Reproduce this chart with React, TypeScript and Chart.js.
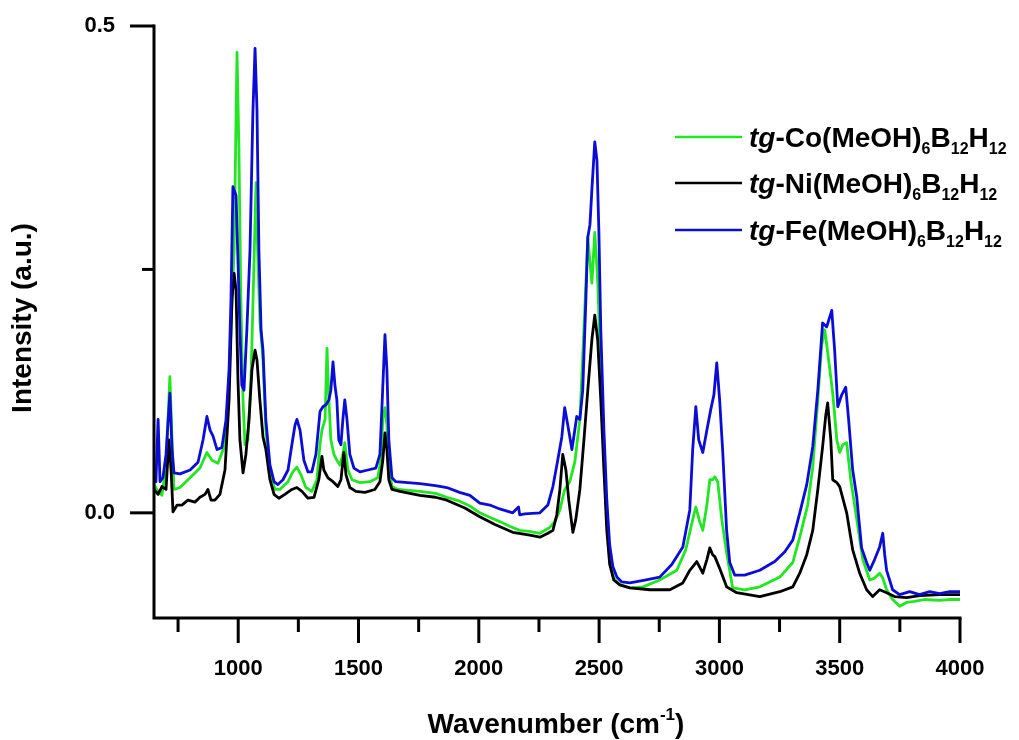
import React, { useEffect, useRef } from "react";
import { Chart, registerables } from "chart.js";

Chart.register(...registerables);

// Raman spectra: [wavenumber (cm^-1), intensity (a.u.)]
const coSpectrum: [number, number][] = [
  [650, 0.029], [667, 0.022], [683, 0.018], [700, 0.049], [716, 0.14], [725, 0.075], [733, 0.024],
  [758, 0.026], [800, 0.036], [841, 0.046], [870, 0.062], [891, 0.054], [916, 0.051], [945, 0.07],
  [958, 0.116], [970, 0.188], [983, 0.27], [995, 0.473], [1003, 0.373], [1011, 0.219], [1020, 0.116],
  [1028, 0.07], [1040, 0.075], [1053, 0.137], [1066, 0.26], [1074, 0.339], [1082, 0.26], [1090, 0.198],
  [1103, 0.157], [1115, 0.085], [1132, 0.039], [1153, 0.024], [1173, 0.024], [1207, 0.032], [1227, 0.042],
  [1244, 0.047], [1261, 0.039], [1281, 0.026], [1306, 0.022], [1327, 0.034], [1340, 0.07], [1348, 0.085],
  [1361, 0.096], [1369, 0.169], [1377, 0.116], [1385, 0.075], [1398, 0.06], [1410, 0.054], [1423, 0.049],
  [1435, 0.06], [1443, 0.072], [1456, 0.044], [1473, 0.034], [1506, 0.031], [1547, 0.032], [1580, 0.036],
  [1593, 0.054], [1601, 0.096], [1610, 0.108], [1618, 0.09], [1626, 0.049], [1639, 0.027], [1664, 0.024],
  [1755, 0.022], [1820, 0.02], [1867, 0.016], [1920, 0.012], [1963, 0.007], [2004, 0.0], [2050, -0.005],
  [2087, -0.009], [2130, -0.014], [2170, -0.018], [2210, -0.019], [2254, -0.021], [2295, -0.015],
  [2316, -0.009], [2337, 0.003], [2357, 0.024], [2378, 0.032], [2399, 0.052], [2420, 0.096], [2437, 0.188],
  [2453, 0.283], [2470, 0.236], [2482, 0.288], [2494, 0.239], [2507, 0.147], [2520, 0.054], [2532, -0.007],
  [2544, -0.048], [2561, -0.067], [2586, -0.074], [2628, -0.077], [2682, -0.076], [2752, -0.069],
  [2823, -0.059], [2860, -0.038], [2889, -0.007], [2902, 0.006], [2918, -0.009], [2931, -0.018],
  [2948, 0.008], [2960, 0.034], [2972, 0.034], [2981, 0.037], [2993, 0.032], [3010, -0.007], [3030, -0.041],
  [3055, -0.077], [3105, -0.079], [3168, -0.076], [3251, -0.066], [3305, -0.051], [3334, -0.025],
  [3367, 0.008], [3388, 0.047], [3409, 0.116], [3425, 0.172], [3438, 0.188], [3454, 0.157], [3471, 0.123],
  [3488, 0.075], [3500, 0.062], [3513, 0.07], [3529, 0.072], [3546, 0.034], [3571, -0.007], [3596, -0.048],
  [3625, -0.069], [3645, -0.067], [3666, -0.062], [3679, -0.067], [3695, -0.079], [3720, -0.089],
  [3749, -0.096], [3778, -0.092], [3811, -0.091], [3853, -0.089], [3915, -0.09], [3960, -0.089], [4000, -0.089],
];

const niSpectrum: [number, number][] = [
  [650, 0.024], [667, 0.019], [683, 0.027], [700, 0.024], [712, 0.075], [721, 0.044], [729, 0.001],
  [746, 0.008], [766, 0.008], [791, 0.013], [820, 0.011], [841, 0.016], [862, 0.019], [874, 0.024],
  [887, 0.013], [903, 0.013], [924, 0.019], [945, 0.044], [962, 0.116], [974, 0.219], [983, 0.246],
  [991, 0.229], [999, 0.137], [1007, 0.075], [1020, 0.041], [1032, 0.06], [1045, 0.096], [1057, 0.147],
  [1070, 0.167], [1078, 0.157], [1090, 0.116], [1103, 0.078], [1115, 0.065], [1132, 0.034], [1149, 0.019],
  [1169, 0.015], [1194, 0.019], [1223, 0.024], [1244, 0.026], [1265, 0.022], [1290, 0.015], [1315, 0.016],
  [1335, 0.034], [1348, 0.058], [1356, 0.044], [1373, 0.036], [1394, 0.032], [1414, 0.027], [1427, 0.034],
  [1439, 0.062], [1448, 0.039], [1464, 0.026], [1489, 0.022], [1527, 0.021], [1568, 0.024], [1589, 0.032],
  [1601, 0.054], [1610, 0.082], [1618, 0.065], [1626, 0.034], [1639, 0.024], [1672, 0.022], [1755, 0.018],
  [1820, 0.016], [1867, 0.013], [1942, 0.005], [2004, -0.004], [2067, -0.012], [2141, -0.02],
  [2212, -0.023], [2254, -0.025], [2287, -0.021], [2308, -0.018], [2324, -0.002], [2337, 0.024],
  [2349, 0.06], [2362, 0.044], [2374, 0.013], [2391, -0.02], [2403, -0.007], [2420, 0.024], [2437, 0.075],
  [2453, 0.126], [2470, 0.178], [2482, 0.203], [2494, 0.178], [2507, 0.116], [2520, 0.044], [2532, -0.018],
  [2544, -0.053], [2561, -0.069], [2586, -0.074], [2628, -0.077], [2711, -0.079], [2794, -0.079],
  [2848, -0.072], [2877, -0.059], [2906, -0.05], [2931, -0.062], [2948, -0.048], [2960, -0.036],
  [2972, -0.043], [2981, -0.045], [3001, -0.057], [3030, -0.076], [3072, -0.082], [3168, -0.086],
  [3251, -0.081], [3305, -0.076], [3334, -0.062], [3363, -0.043], [3388, -0.018], [3409, 0.024],
  [3429, 0.068], [3442, 0.1], [3450, 0.113], [3463, 0.075], [3471, 0.034], [3488, 0.031], [3500, 0.027],
  [3529, 0.0], [3554, -0.038], [3583, -0.062], [3612, -0.079], [3637, -0.086], [3666, -0.079],
  [3695, -0.082], [3728, -0.086], [3778, -0.087], [3832, -0.085], [3915, -0.084], [4000, -0.084],
];

const feSpectrum: [number, number][] = [
  [650, 0.036], [658, 0.032], [667, 0.096], [675, 0.032], [687, 0.036], [700, 0.06], [716, 0.123],
  [725, 0.065], [733, 0.041], [758, 0.04], [800, 0.044], [833, 0.052], [854, 0.075], [870, 0.099],
  [883, 0.085], [895, 0.079], [912, 0.065], [932, 0.067], [949, 0.095], [962, 0.147], [970, 0.219],
  [978, 0.335], [991, 0.326], [999, 0.26], [1007, 0.188], [1015, 0.131], [1024, 0.126], [1036, 0.188],
  [1049, 0.27], [1061, 0.411], [1070, 0.477], [1078, 0.414], [1086, 0.27], [1095, 0.188], [1103, 0.167],
  [1115, 0.095], [1132, 0.049], [1149, 0.032], [1165, 0.029], [1186, 0.034], [1207, 0.044], [1223, 0.07],
  [1236, 0.09], [1244, 0.096], [1257, 0.085], [1273, 0.054], [1290, 0.042], [1306, 0.042], [1323, 0.06],
  [1340, 0.104], [1352, 0.109], [1365, 0.111], [1377, 0.116], [1385, 0.126], [1394, 0.155], [1402, 0.131],
  [1410, 0.116], [1418, 0.075], [1427, 0.07], [1435, 0.096], [1443, 0.116], [1452, 0.096], [1464, 0.06],
  [1481, 0.046], [1506, 0.042], [1539, 0.044], [1572, 0.046], [1589, 0.06], [1597, 0.106], [1610, 0.183],
  [1618, 0.147], [1626, 0.075], [1639, 0.036], [1655, 0.032], [1755, 0.03], [1820, 0.028], [1867, 0.026],
  [1920, 0.021], [1963, 0.018], [2004, 0.01], [2046, 0.008], [2087, 0.004], [2141, 0.0], [2165, 0.006],
  [2170, -0.002], [2191, -0.001], [2254, 0.0], [2287, 0.008], [2308, 0.027], [2328, 0.054], [2345, 0.078],
  [2357, 0.108], [2370, 0.09], [2387, 0.065], [2399, 0.085], [2407, 0.099], [2420, 0.096], [2432, 0.126],
  [2445, 0.219], [2453, 0.283], [2462, 0.296], [2470, 0.332], [2482, 0.381], [2491, 0.362], [2499, 0.29],
  [2507, 0.188], [2520, 0.085], [2532, 0.013], [2544, -0.033], [2557, -0.055], [2574, -0.066],
  [2594, -0.071], [2628, -0.072], [2690, -0.069], [2752, -0.066], [2802, -0.053], [2848, -0.035],
  [2877, 0.003], [2889, 0.065], [2902, 0.109], [2914, 0.075], [2931, 0.062], [2948, 0.085], [2964, 0.106],
  [2977, 0.121], [2989, 0.154], [3001, 0.116], [3014, 0.062], [3030, -0.018], [3043, -0.051],
  [3064, -0.064], [3105, -0.064], [3168, -0.059], [3230, -0.05], [3272, -0.04], [3305, -0.028],
  [3334, 0.0], [3363, 0.029], [3388, 0.068], [3409, 0.126], [3429, 0.195], [3446, 0.191], [3467, 0.208],
  [3479, 0.167], [3492, 0.109], [3508, 0.121], [3525, 0.129], [3537, 0.096], [3554, 0.044], [3571, 0.016],
  [3591, -0.036], [3612, -0.051], [3625, -0.059], [3645, -0.048], [3666, -0.035], [3679, -0.021],
  [3687, -0.043], [3695, -0.059], [3720, -0.079], [3749, -0.084], [3791, -0.081], [3832, -0.084],
  [3874, -0.081], [3915, -0.083], [3957, -0.081], [4000, -0.081],
];

const xMajorTicks = [1000, 1500, 2000, 2500, 3000, 3500, 4000];
const xMinorTicks = [750, 1250, 1750, 2250, 2750, 3250, 3750];
const yMajorTicks = [0, 0.5];
const yMinorTicks = [0.25];

const CO_COLOR = "rgb(34, 230, 34)";
const NI_COLOR = "#000000";
const FE_COLOR = "rgb(12, 12, 215)";
const FONT = '"Liberation Sans", Arial, sans-serif';

const legendEntries = [
  { metal: "Co", color: CO_COLOR },
  { metal: "Ni", color: NI_COLOR },
  { metal: "Fe", color: FE_COLOR },
];

type Run = { text: string; italic?: boolean; sub?: boolean; sup?: boolean };

function runFont(r: Run, size: number, small: number) {
  const s = r.sub || r.sup ? small : size;
  return `${r.italic ? "italic " : ""}bold ${s}px ${FONT}`;
}

function measureRuns(ctx: CanvasRenderingContext2D, runs: Run[], size: number, small: number) {
  let w = 0;
  for (const r of runs) {
    ctx.font = runFont(r, size, small);
    w += ctx.measureText(r.text).width;
  }
  return w;
}

function drawRuns(
  ctx: CanvasRenderingContext2D,
  runs: Run[],
  x: number,
  baseline: number,
  size: number,
  small: number,
  subShift: number,
  supShift: number
) {
  let cx = x;
  ctx.textAlign = "left";
  ctx.textBaseline = "alphabetic";
  for (const r of runs) {
    ctx.font = runFont(r, size, small);
    const y = r.sub ? baseline + subShift : r.sup ? baseline - supShift : baseline;
    ctx.fillText(r.text, cx, y);
    cx += ctx.measureText(r.text).width;
  }
}

const decorPlugin = {
  id: "spectrumDecor",
  afterDraw(chart: any) {
    const { ctx, chartArea, scales } = chart;
    const xs = scales.x;
    const ys = scales.y;
    ctx.save();
    ctx.strokeStyle = "#000";
    ctx.fillStyle = "#000";
    ctx.lineWidth = 3;
    ctx.lineCap = "square";

    // axis lines
    ctx.beginPath();
    ctx.moveTo(chartArea.left, chartArea.top);
    ctx.lineTo(chartArea.left, chartArea.bottom);
    ctx.lineTo(chartArea.right, chartArea.bottom);
    ctx.stroke();

    // tick marks (outside)
    ctx.lineCap = "butt";
    const seg = (x1: number, y1: number, x2: number, y2: number) => {
      ctx.beginPath();
      ctx.moveTo(x1, y1);
      ctx.lineTo(x2, y2);
      ctx.stroke();
    };
    xMajorTicks.forEach((v) => {
      const px = xs.getPixelForValue(v);
      seg(px, chartArea.bottom, px, chartArea.bottom + 25);
    });
    xMinorTicks.forEach((v) => {
      const px = xs.getPixelForValue(v);
      seg(px, chartArea.bottom, px, chartArea.bottom + 14);
    });
    yMajorTicks.forEach((v) => {
      const py = ys.getPixelForValue(v);
      seg(chartArea.left - 24, py, chartArea.left, py);
    });
    yMinorTicks.forEach((v) => {
      const py = ys.getPixelForValue(v);
      seg(chartArea.left - 12, py, chartArea.left, py);
    });

    // axis titles
    const xTitle: Run[] = [{ text: "Wavenumber (cm" }, { text: "-1", sup: true }, { text: ")" }];
    const xw = measureRuns(ctx, xTitle, 28, 17);
    drawRuns(ctx, xTitle, 556 - xw / 2, 733, 28, 17, 0, 13);

    ctx.save();
    ctx.translate(23, 318);
    ctx.rotate(-Math.PI / 2);
    ctx.font = `bold 28px ${FONT}`;
    ctx.textAlign = "center";
    ctx.textBaseline = "middle";
    ctx.fillText("Intensity (a.u.)", 0, 0);
    ctx.restore();

    // legend
    const rows = [137, 183, 230];
    legendEntries.forEach((e, i) => {
      const y = rows[i];
      ctx.strokeStyle = e.color;
      ctx.lineWidth = 2.5;
      seg(675, y, 742, y);
      ctx.fillStyle = "#000";
      const runs: Run[] = [
        { text: "tg", italic: true },
        { text: `-${e.metal}(MeOH)` },
        { text: "6", sub: true },
        { text: "B" },
        { text: "12", sub: true },
        { text: "H" },
        { text: "12", sub: true },
      ];
      drawRuns(ctx, runs, 749, y + 10, 28, 16, 7, 0);
    });
    ctx.restore();
  },
};

function toPoints(spec: [number, number][]) {
  return spec.map(([x, y]) => ({ x, y }));
}

export default function App() {
  const canvasRef = useRef<HTMLCanvasElement | null>(null);

  useEffect(() => {
    const canvas = canvasRef.current;
    if (!canvas) return;
    const chart = new Chart(canvas, {
      type: "line",
      data: {
        datasets: [
          { label: "tg-Fe(MeOH)6B12H12", data: toPoints(feSpectrum), borderColor: FE_COLOR },
          { label: "tg-Ni(MeOH)6B12H12", data: toPoints(niSpectrum), borderColor: NI_COLOR },
          { label: "tg-Co(MeOH)6B12H12", data: toPoints(coSpectrum), borderColor: CO_COLOR },
        ].map((d) => ({
          ...d,
          borderWidth: 2.8,
          pointRadius: 0,
          tension: 0,
          fill: false,
          borderJoinStyle: "round" as const,
        })),
      },
      options: {
        responsive: false,
        animation: false,
        events: [],
        layout: { padding: { top: 26, right: 59, bottom: 0, left: 0 } },
        plugins: { legend: { display: false }, tooltip: { enabled: false } },
        scales: {
          x: {
            type: "linear",
            min: 650,
            max: 4000,
            afterBuildTicks: (s: any) => {
              s.ticks = xMajorTicks.map((value) => ({ value }));
            },
            afterFit: (s: any) => {
              s.height = 122;
            },
            grid: { display: false, drawTicks: true, tickLength: 38 },
            border: { display: false },
            ticks: {
              autoSkip: false,
              maxRotation: 0,
              padding: 0,
              color: "#000",
              font: { family: FONT, size: 22, weight: "bold" },
              callback: (v: any) => String(v),
            },
          },
          y: {
            type: "linear",
            min: -0.108,
            max: 0.5,
            afterBuildTicks: (s: any) => {
              s.ticks = yMajorTicks.map((value) => ({ value }));
            },
            afterFit: (s: any) => {
              s.width = 154;
            },
            grid: { display: false, drawTicks: true, tickLength: 39 },
            border: { display: false },
            ticks: {
              padding: 0,
              color: "#000",
              font: { family: FONT, size: 22, weight: "bold" },
              callback: (v: any) => Number(v).toFixed(1),
            },
          },
        },
      },
      plugins: [decorPlugin],
    });
    return () => chart.destroy();
  }, []);

  return (
    <div style={{ position: "fixed", left: 0, top: 0, width: 1019, height: 740, background: "#fff" }}>
      <canvas ref={canvasRef} width={1019} height={740} style={{ display: "block" }} />
    </div>
  );
}
